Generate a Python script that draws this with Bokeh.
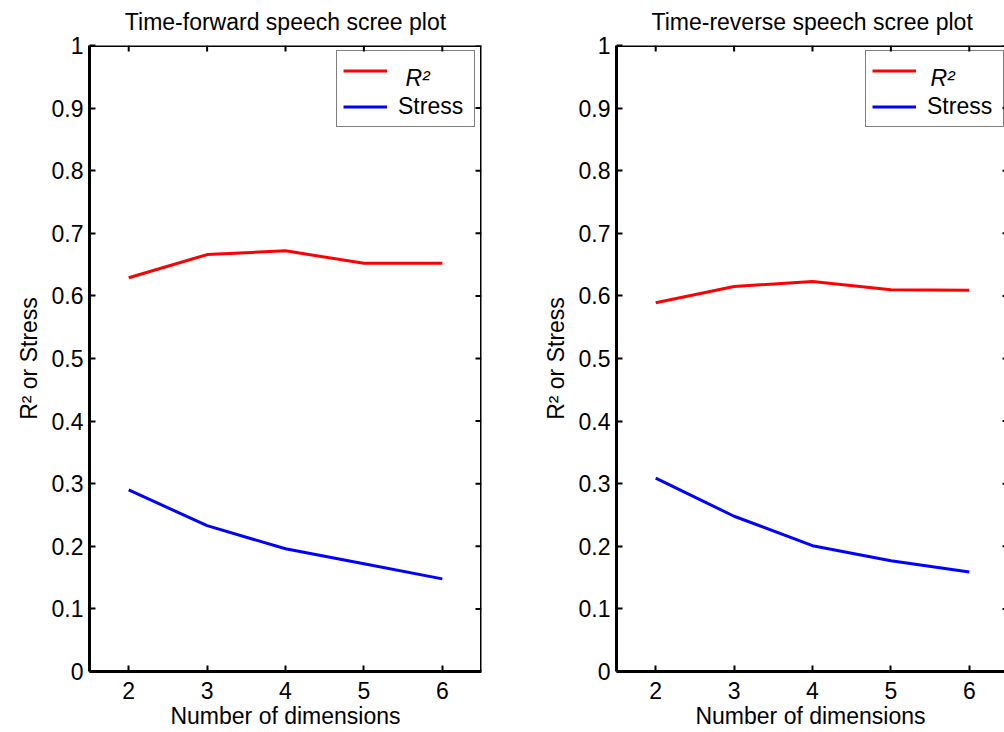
import math
from bokeh.plotting import figure
from bokeh.layouts import row
from bokeh.models import Legend, LegendItem, FixedTicker, Range1d, Label, Span
from bokeh.embed import file_html
from bokeh.resources import INLINE

# ---------------- data ----------------
dims = [2, 3, 4, 5, 6]
fwd_r2 = [0.629, 0.666, 0.672, 0.652, 0.652]
fwd_stress = [0.290, 0.233, 0.196, 0.172, 0.148]
rev_r2 = [0.589, 0.615, 0.623, 0.610, 0.609]
rev_stress = [0.309, 0.248, 0.201, 0.177, 0.159]

x_ticks = [2, 3, 4, 5, 6]
x_tick_labels = ["2", "3", "4", "5", "6"]
y_ticks = [0, 0.1, 0.2, 0.3, 0.4, 0.5, 0.6, 0.7, 0.8, 0.9, 1]
y_tick_labels = ["0", "0.1", "0.2", "0.3", "0.4", "0.5", "0.6", "0.7", "0.8", "0.9", "1"]
x_limits = [1.5, 6.5]
y_limits = [0, 1]

titles = ["Time-forward speech scree plot", "Time-reverse speech scree plot"]
x_label = "Number of dimensions"
y_label = "R\u00b2 or Stress"
series_labels = ["R\u00b2", "Stress"]
series_colors = ["#ff0000", "#0000ff"]

FONT = "Liberation Sans"
FS = "23px"
FULL_FRAME_W = 392
FRAME_H = 626
PPU = FULL_FRAME_W / (x_limits[1] - x_limits[0])  # pixels per x unit


def style_axis(ax, ticks, labels):
    ax.ticker = FixedTicker(ticks=ticks)
    ax.major_label_overrides = {t: l for t, l in zip(ticks, labels)}
    ax.major_tick_in = 6
    ax.major_tick_out = 0
    ax.major_tick_line_width = 2
    ax.major_tick_line_color = "black"
    ax.minor_tick_line_color = None
    ax.axis_line_width = 3
    ax.axis_line_color = "black"
    ax.major_label_text_font = FONT
    ax.major_label_text_font_size = FS
    ax.major_label_text_color = "black"
    ax.axis_label_text_font = FONT
    ax.axis_label_text_font_size = FS
    ax.axis_label_text_font_style = "normal"
    ax.axis_label_text_color = "black"


def make_panel(title, r2, stress, width, mbl, frame_w, mbr, draw_right_line,
               title_align, title_offset, legend_dx, r2_label_dx):
    x_end = x_limits[0] + frame_w / PPU
    p = figure(width=width, height=732,
               x_range=Range1d(x_limits[0], x_end), y_range=Range1d(*y_limits),
               output_backend="svg", toolbar_location=None,
               min_border_left=mbl, min_border_right=mbr,
               min_border_top=45, min_border_bottom=61)
    p.title.text = title
    p.title.text_font = FONT
    p.title.text_font_size = FS
    p.title.text_font_style = "normal"
    p.title.text_color = "black"
    p.title.align = title_align
    p.title.offset = title_offset
    p.title.vertical_align = "top"
    p.title.standoff = 17
    p.grid.visible = False
    p.outline_line_color = None

    style_axis(p.xaxis[0], x_ticks, x_tick_labels)
    style_axis(p.yaxis[0], y_ticks, y_tick_labels)
    p.xaxis[0].axis_label = x_label
    p.yaxis[0].axis_label = y_label
    p.xaxis[0].major_label_standoff = 10
    p.xaxis[0].axis_label_standoff = 1
    p.yaxis[0].major_label_standoff = 6
    p.yaxis[0].axis_label_standoff = 7

    # top and right frame lines
    p.add_layout(Span(location=y_limits[1], dimension="width",
                      line_color="black", line_width=3))
    if draw_right_line:
        p.add_layout(Span(location=x_limits[1], dimension="height",
                          line_color="black", line_width=3))

    # inward ticks on the top and right sides (MATLAB box style)
    p.ray(x=x_ticks, y=[y_limits[1]] * len(x_ticks), length=6, length_units="screen",
          angle=-math.pi / 2, line_color="black", line_width=2)
    p.ray(x=[x_limits[1]] * len(y_ticks), y=y_ticks, length=6, length_units="screen",
          angle=math.pi, line_color="black", line_width=2)

    l1 = p.line(dims, r2, line_color=series_colors[0], line_width=3)
    l2 = p.line(dims, stress, line_color=series_colors[1], line_width=3)

    legend = Legend(items=[LegendItem(label=" ", renderers=[l1]),
                           LegendItem(label=series_labels[1], renderers=[l2])],
                    location=(legend_dx, 544), margin=0,
                    label_text_font=FONT, label_text_font_size=FS,
                    label_text_color="black",
                    glyph_width=44, glyph_height=27, label_height=27,
                    label_width=70, label_standoff=11, padding=6, spacing=9,
                    border_line_color="black", border_line_width=1,
                    background_fill_alpha=0)
    p.add_layout(legend)

    # italic R² legend text (centre of text 594 px above the frame bottom)
    p.add_layout(Label(x=x_limits[0] + r2_label_dx / PPU, y=594 / FRAME_H,
                       text=series_labels[0], text_font=FONT, text_font_size=FS,
                       text_font_style="italic", text_baseline="middle",
                       text_align="left", text_color="black", level="overlay"))
    return p


left = make_panel(titles[0], fwd_r2, fwd_stress, width=535, mbl=89, frame_w=392, mbr=54,
                  draw_right_line=True, title_align="center", title_offset=0,
                  legend_dx=247, r2_label_dx=316)
right = make_panel(titles[1], rev_r2, rev_stress, width=469, mbl=81, frame_w=388, mbr=0,
                   draw_right_line=False, title_align="left", title_offset=35,
                   legend_dx=249, r2_label_dx=314)

layout = row(left, right)
open("out.html", "w").write(file_html(layout, INLINE))
